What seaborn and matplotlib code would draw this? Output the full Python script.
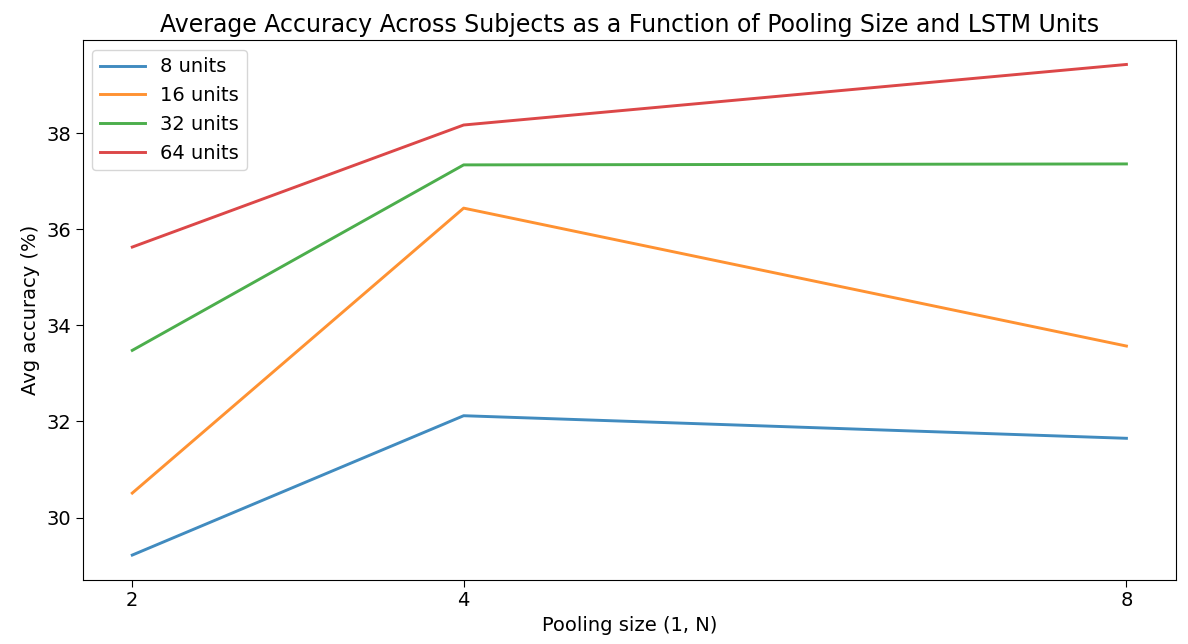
import pandas as pd
import matplotlib.pyplot as plt
import seaborn as sns

# Data
pooling_sizes = [2, 4, 8]
units_labels = ["8 units", "16 units", "32 units", "64 units"]
acc_8 = [29.22, 32.12, 31.65]
acc_16 = [30.51, 36.44, 33.57]
acc_32 = [33.48, 37.34, 37.36]
acc_64 = [35.63, 38.17, 39.43]

# long-form table for seaborn
rows = []
for label, vals in zip(units_labels, [acc_8, acc_16, acc_32, acc_64]):
    for n, v in zip(pooling_sizes, vals):
        rows.append({"pool": n, "acc": v, "units": label})
df = pd.DataFrame(rows)

fig, ax = plt.subplots(figsize=(11.88, 6.44), dpi=100)
fig.subplots_adjust(left=0.0695, right=0.99, top=0.938, bottom=0.1)

sns.lineplot(data=df, x="pool", y="acc", hue="units", hue_order=units_labels,
             palette="tab10", linewidth=2.1, alpha=0.85, ax=ax)

ax.set_xticks(pooling_sizes)
ax.set_xticklabels([str(n) for n in pooling_sizes])
ax.tick_params(labelsize=14, length=5)
ax.set_xlabel("Pooling size (1, N)", fontsize=14)
ax.set_ylabel("Avg accuracy (%)", fontsize=14)
ax.set_title("Average Accuracy Across Subjects as a Function of Pooling Size and LSTM Units",
             fontsize=17)
ax.legend(title=None, loc="upper left", fontsize=14, handlelength=2.3)

plt.savefig("out.png", dpi=100)
